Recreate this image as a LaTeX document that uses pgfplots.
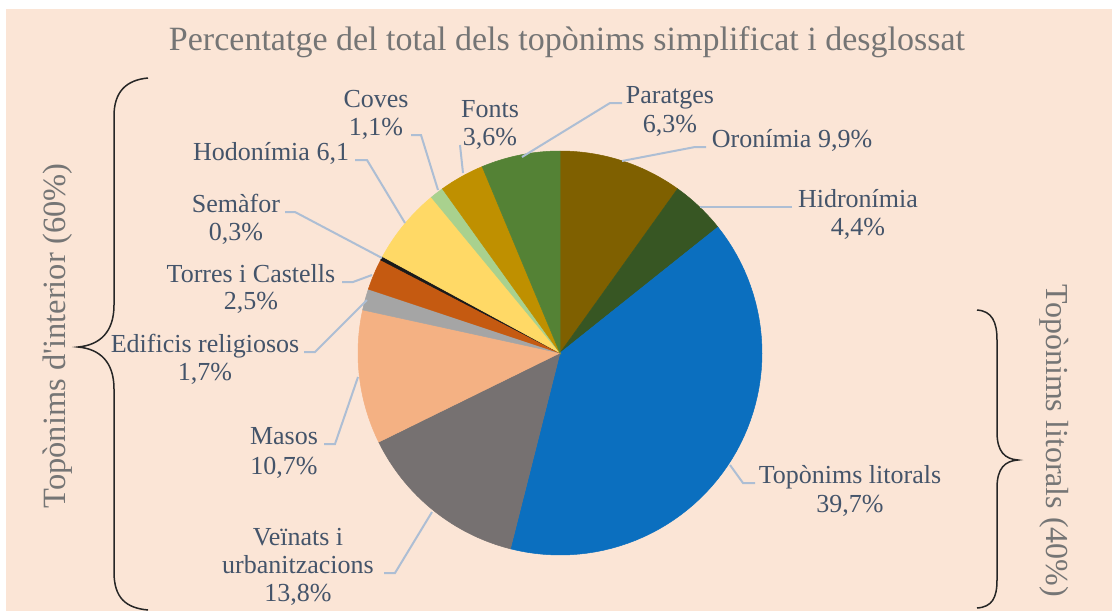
\documentclass[border=0pt]{standalone}
\usepackage{pgfplots}
\pgfplotsset{compat=1.18}
\usepackage{fontspec}
\setmainfont{Liberation Serif}
\definecolor{bgc}{HTML}{FBE5D6}
\definecolor{labc}{HTML}{44546A}
\definecolor{titc}{HTML}{757575}
\definecolor{leadc}{RGB}{173,190,212}
\definecolor{cOro}{HTML}{7F6000}
\definecolor{cHid}{HTML}{375623}
\definecolor{cLit}{HTML}{0B6FBF}
\definecolor{cVei}{HTML}{767171}
\definecolor{cMas}{HTML}{F4B183}
\definecolor{cEdi}{HTML}{A5A5A5}
\definecolor{cTor}{HTML}{C55A11}
\definecolor{cSem}{HTML}{1A1A1A}
\definecolor{cHod}{HTML}{FFD966}
\definecolor{cCov}{HTML}{A9D18E}
\definecolor{cFon}{HTML}{BF9000}
\definecolor{cPar}{HTML}{548235}
% wedge: start percentage, end percentage (cumulative), colour
\newcommand{\wedgeplot}[3]{%
  \addplot[fill=#3, draw=#3, line width=0.5pt, domain=#1:#2, samples=60, variable=\t]
    ({560+202*sin(3.5964*\t)}, {353-202*cos(3.5964*\t)}) -- (560,353) -- cycle;}
\newcommand{\lab}[3]{\node[anchor=base, text=labc, font=\fontsize{26}{30}\selectfont, inner sep=0pt] at (#1,#2) {#3};}
\begin{document}
\begin{tikzpicture}
\begin{axis}[
  scale only axis, width=1112pt, height=611pt,
  xmin=0, xmax=1112, ymin=0, ymax=611, y dir=reverse,
  hide axis, clip=false]
\fill[white] (0,0) rectangle (1112,611);
\fill[bgc] (6,9) rectangle (1112,611);
% percentages: Oronímia 9.9, Hidronímia 4.4, Topònims litorals 39.7, Veïnats 13.8, Masos 10.7,
% Edificis religiosos 1.7, Torres i Castells 2.5, Semàfor 0.3, Hodonímia 6.1, Coves 1.1, Fonts 3.6, Paratges 6.3
\wedgeplot{0}{9.9}{cOro}
\wedgeplot{9.9}{14.3}{cHid}
\wedgeplot{14.3}{54.0}{cLit}
\wedgeplot{54.0}{67.8}{cVei}
\wedgeplot{67.8}{78.5}{cMas}
\wedgeplot{78.5}{80.2}{cEdi}
\wedgeplot{80.2}{82.7}{cTor}
\wedgeplot{82.7}{83.0}{cSem}
\wedgeplot{83.0}{89.1}{cHod}
\wedgeplot{89.1}{90.2}{cCov}
\wedgeplot{90.2}{93.8}{cFon}
\wedgeplot{93.8}{100.1}{cPar}
% leader lines
\begin{scope}[leadc, line width=2pt]
\draw (411,135) -- (421,135) -- (438,190);
\draw (460,145) -- (463,173);
\draw (622,103) -- (610,103) -- (522,157);
\draw (706,147) -- (695,147) -- (622,161);
\draw (792,207) -- (700,207);
\draw (755,483) -- (743,483) -- (730,465);
\draw (384,573) -- (395,573) -- (432,512);
\draw (324,444) -- (335,444) -- (358,377);
\draw (304,352) -- (315,352) -- (367,300);
\draw (342,282) -- (353,282) -- (372,275);
\draw (285,212) -- (295,212) -- (382,258);
\draw (355,160) -- (367,160) -- (405,223);
\end{scope}
% labels
\lab{376}{107}{Coves}\lab{376}{135}{1,1\%}
\lab{490}{117}{Fonts}\lab{490}{145}{3,6\%}
\lab{670}{103}{Paratges}\lab{670}{132}{6,3\%}
\lab{792}{147}{Oronímia 9,9\%}
\lab{858}{207}{Hidronímia}\lab{858}{235}{4,4\%}
\lab{850}{483}{Topònims litorals}\lab{850}{512}{39,7\%}
\lab{298}{545}{Veïnats i}\lab{298}{573}{urbanitzacions}\lab{298}{601}{13,8\%}
\lab{284}{444}{Masos}\lab{284}{474}{10,7\%}
\lab{205}{352}{Edificis religiosos}\lab{205}{380}{1,7\%}
\lab{251}{282}{Torres i Castells}\lab{251}{309}{2,5\%}
\lab{236}{212}{Semàfor}\lab{236}{240}{0,3\%}
\lab{271}{160}{Hodonímia 6,1}
% title
\node[anchor=base, text=titc, font=\fontsize{34}{40}\selectfont, inner sep=0pt] at (567,50) {Percentatge del total dels topònims simplificat i desglossat};
% side labels
\node[rotate=90, text=titc, font=\fontsize{32.5}{38}\selectfont, inner sep=0pt] at (58,336) {Topònims d\textquotesingle interior (60\%)};
\node[rotate=-90, text=titc, font=\fontsize{32}{38}\selectfont, inner sep=0pt] at (1054,441) {Topònims litorals (40\%)};
% braces
\draw[line width=1.5pt, black!85] (148,78) .. controls (126,80) and (114,92) .. (114,116) -- (114,305)
  .. controls (114,332) and (100,345) .. (78,347) .. controls (100,349) and (114,362) .. (114,389)
  -- (114,572) .. controls (114,598) and (126,608) .. (148,610);
\draw[line width=1.5pt, black!85] (977,310) .. controls (992,311) and (997,322) .. (997,340) -- (997,432)
  .. controls (997,452) and (1005,459) .. (1018,460) .. controls (1005,461) and (997,468) .. (997,488)
  -- (997,580) .. controls (997,598) and (992,607) .. (977,608);
\end{axis}
\end{tikzpicture}
\end{document}
